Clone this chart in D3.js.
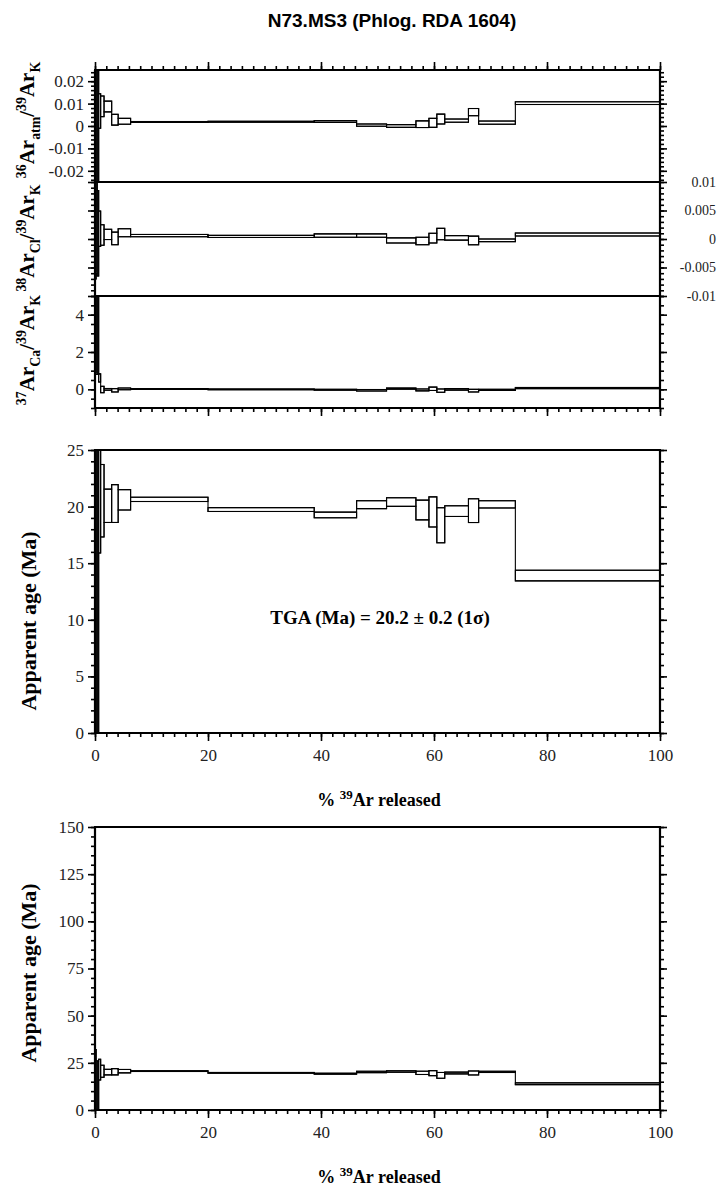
<!DOCTYPE html>
<html><head><meta charset="utf-8">
<script src="https://cdn.jsdelivr.net/npm/d3@7"></script>
<style>body{margin:0;background:#fff}svg{display:block}</style>
</head><body>
<script>
// ---- data ----
const stepEdges = [0, 0.2, 0.4, 0.65, 1.0, 1.6, 2.95, 4.1, 6.3, 20.0, 38.8, 46.3, 51.6, 56.8, 59.1, 60.5, 61.9, 66.1, 67.9, 74.4, 100];
const ages    = [12, 9, 6, 21.4, 20.52, 20.07, 20.27, 20.6, 20.64, 19.74, 19.26, 20.17, 20.4, 19.7, 19.53, 18.35, 19.6, 19.64, 20.2, 13.91];
const ageErr  = [20, 17, 20, 5.5, 3.2, 1.47, 1.67, 0.9, 0.19, 0.17, 0.25, 0.35, 0.38, 0.87, 1.33, 1.55, 0.47, 1.05, 0.32, 0.47];
const atm36   = [0, 0.002, 0.004, 0.0067, 0.0088, 0.0087, 0.0028, 0.0021, 0.0018, 0.0019, 0.002, 0.0004, 0, 0.0008, 0.0014, 0.0031, 0.0024, 0.0062, 0.0015, 0.0102];
const atm36Err= [0.05, 0.04, 0.03, 0.0077, 0.0046, 0.0024, 0.0024, 0.0013, 0.0002, 0.0002, 0.0004, 0.0005, 0.0006, 0.0015, 0.002, 0.0022, 0.0007, 0.0016, 0.0007, 0.0006];
const cl38    = [0.003, 0.002, 0.001, 0.0018, 0.0007, 0.0008, 0.0001, 0.0011, 0.0006, 0.00045, 0.0006, 0.0006, -0.00025, -0.00035, 0.00015, 0.00087, 0.0002, -0.00026, -0.00023, 0.00079];
const cl38Err = [0.01, 0.008, 0.0075, 0.0031, 0.0018, 0.0009, 0.0011, 0.0007, 0.0002, 0.00018, 0.0003, 0.0003, 0.00045, 0.00065, 0.00085, 0.001, 0.0004, 0.00076, 0.00023, 0.00026];
const ca37    = [4, 3.5, 3, 0.61, -0.01, 0, -0.05, 0.025, 0.02, 0, -0.02, -0.05, 0.04, -0.03, 0.03, -0.07, 0, -0.07, -0.03, 0.07];
const ca37Err = [3.2, 2.7, 2.2, 0.22, 0.17, 0.045, 0.09, 0.045, 0.02, 0.02, 0.02, 0.04, 0.03, 0.05, 0.09, 0.09, 0.04, 0.07, 0.03, 0.03];
const xTicks = [0, 20, 40, 60, 80, 100];
const atmTicks = [-0.02, -0.01, 0, 0.01, 0.02];
const clTicks = [-0.01, -0.005, 0, 0.005, 0.01];
const caTicks = [0, 2, 4];
const ageTicks = [0, 5, 10, 15, 20, 25];
const ageTicks2 = [0, 25, 50, 75, 100, 125, 150];
const titleText = "N73.MS3 (Phlog. RDA 1604)";
const tgaText = "TGA (Ma) = 20.2 ± 0.2 (1σ)";

// ---- drawing ----
const W = 720, H = 1193;
const svg = d3.select("body").append("svg").attr("width", W).attr("height", H);
const x = d3.scaleLinear().domain([0, 100]).range([95, 660]);
const SERIF = "'Liberation Serif','Times New Roman',serif";
const SANS = "'Liberation Sans',Arial,sans-serif";
const minorRange = (a, b, s) => d3.range(Math.round(a / s), Math.round(b / s) + 1).map(k => +(k * s).toFixed(6));
const fmt = v => v === 0 ? "0" : String(v);
const TICKFS = 17;

svg.append("text").attr("x", 392).attr("y", 27).attr("text-anchor", "middle")
  .attr("font-family", SANS).attr("font-weight", "bold").attr("font-size", 19).text(titleText);

let clipId = 0;
function panel(cfg) {
  const y = d3.scaleLinear().domain(cfg.domain).range([cfg.y1, cfg.y0]);
  const g = svg.append("g");
  const id = "clip" + (clipId++);
  svg.append("clipPath").attr("id", id).append("rect")
    .attr("x", 95).attr("y", cfg.y0).attr("width", 565).attr("height", cfg.y1 - cfg.y0);
  const data = cfg.vals.map((v, i) => ({x0: stepEdges[i], x1: stepEdges[i + 1], lo: v - cfg.errs[i], hi: v + cfg.errs[i]}));
  const dg = g.append("g").attr("clip-path", `url(#${id})`);
  // envelope (upper and lower step lines joined)
  const upper = data.flatMap(d => [[d.x0, d.hi], [d.x1, d.hi]]);
  const lower = data.slice().reverse().flatMap(d => [[d.x1, d.lo], [d.x0, d.lo]]);
  const line = d3.line().x(p => x(p[0])).y(p => y(p[1]));
  dg.append("path").attr("d", line(upper.concat(lower)) + "Z")
    .attr("fill", "none").attr("stroke", "#000").attr("stroke-width", 1.1);
  // individual step boxes
  dg.selectAll("rect").data(data).join("rect")
    .attr("x", d => x(d.x0)).attr("width", d => Math.max(0.8, x(d.x1) - x(d.x0)))
    .attr("y", d => y(d.hi)).attr("height", d => Math.max(0.8, y(d.lo) - y(d.hi)))
    .attr("fill", "none").attr("stroke", "#000").attr("stroke-width", 1.1);
  const style = sel => { sel.select(".domain").remove(); sel.selectAll("line").attr("stroke", "#000").attr("stroke-width", 1.6);
    sel.selectAll("text").attr("font-family", SERIF).attr("font-size", TICKFS).attr("fill", "#222"); };
  // left
  g.append("g").attr("transform", "translate(95,0)").call(d3.axisLeft(y).tickValues(cfg.minor).tickSize(4).tickFormat("")).call(style);
  g.append("g").attr("transform", "translate(95,0)").call(d3.axisLeft(y).tickValues(cfg.major).tickSize(7)
    .tickPadding(4).tickFormat(cfg.leftLabels ? fmt : "")).call(style);
  // right
  g.append("g").attr("transform", "translate(660,0)").call(d3.axisRight(y).tickValues(cfg.minor).tickSize(4).tickFormat("")).call(style);
  g.append("g").attr("transform", "translate(660,0)").call(d3.axisRight(y).tickValues(cfg.major).tickSize(7).tickFormat("")).call(style);
  if (cfg.rightLabels) {
    g.append("g").selectAll("text").data(cfg.major).join("text")
      .attr("x", 716).attr("y", d => y(d)).attr("dy", "0.35em").attr("text-anchor", "end")
      .attr("font-family", SERIF).attr("font-size", 14).attr("fill", "#222").text(fmt);
  }
  // frame
  const f = g.append("g").attr("stroke", "#000").attr("stroke-width", 2.2).attr("fill", "none");
  f.append("line").attr("x1", 95).attr("x2", 95).attr("y1", cfg.y0).attr("y2", cfg.y1);
  f.append("line").attr("x1", 660).attr("x2", 660).attr("y1", cfg.y0).attr("y2", cfg.y1);
  f.append("line").attr("x1", 94).attr("x2", 661).attr("y1", cfg.y0).attr("y2", cfg.y0);
  f.append("line").attr("x1", 94).attr("x2", 661).attr("y1", cfg.y1).attr("y2", cfg.y1);
  return {g, y};
}

function xAxis(yPos, dir, labels) {
  const mk = dir === "top" ? d3.axisTop : d3.axisBottom;
  const st = sel => { sel.select(".domain").remove(); sel.selectAll("line").attr("stroke", "#000").attr("stroke-width", 1.6);
    sel.selectAll("text").attr("font-family", SERIF).attr("font-size", TICKFS).attr("fill", "#222"); };
  svg.append("g").attr("transform", `translate(0,${yPos})`).call(mk(x).tickValues(d3.range(0, 101, 2)).tickSize(4).tickFormat("")).call(st);
  svg.append("g").attr("transform", `translate(0,${yPos})`).call(mk(x).tickValues(xTicks).tickSize(8).tickPadding(8).tickFormat(labels ? d3.format("d") : "")).call(st);
}

function rotLabel(cx, cy, parts, size) {
  const t = svg.append("text").attr("transform", `translate(${cx},${cy}) rotate(-90)`).attr("text-anchor", "middle")
    .attr("font-family", SERIF).attr("font-weight", "bold").attr("font-size", size);
  let cur = 0;
  parts.forEach(p => {
    const off = p.k === "sup" ? -size * 0.38 : p.k === "sub" ? size * 0.28 : 0;
    t.append("tspan").attr("dy", off - cur).attr("font-size", p.k ? size * 0.66 : size).text(p.t);
    cur = off;
  });
}

// stacked panels
panel({y0: 70, y1: 182, domain: [-0.025, 0.025], vals: atm36, errs: atm36Err, major: atmTicks,
  minor: minorRange(-0.024, 0.024, 0.002), leftLabels: true});
panel({y0: 182, y1: 296, domain: [-0.01, 0.01], vals: cl38, errs: cl38Err, major: clTicks,
  minor: minorRange(-0.01, 0.01, 0.001), rightLabels: true});
panel({y0: 296, y1: 408, domain: [-1, 5], vals: ca37, errs: ca37Err, major: caTicks,
  minor: minorRange(-1, 5, 0.5), leftLabels: true});
xAxis(70, "top", false);
xAxis(408, "bottom", false);

rotLabel(34, 120, [{t: "36", k: "sup"}, {t: "Ar"}, {t: "atm", k: "sub"}, {t: "/"}, {t: "39", k: "sup"}, {t: "Ar"}, {t: "K", k: "sub"}], 21);
rotLabel(34, 238, [{t: "38", k: "sup"}, {t: "Ar"}, {t: "Cl", k: "sub"}, {t: "/"}, {t: "39", k: "sup"}, {t: "Ar"}, {t: "K", k: "sub"}], 21);
rotLabel(34, 350, [{t: "37", k: "sup"}, {t: "Ar"}, {t: "Ca", k: "sub"}, {t: "/"}, {t: "39", k: "sup"}, {t: "Ar"}, {t: "K", k: "sub"}], 21);

// age panel
panel({y0: 450, y1: 733, domain: [0, 25], vals: ages, errs: ageErr, major: ageTicks,
  minor: d3.range(0, 26, 1), leftLabels: true});
xAxis(733, "bottom", true);
rotLabel(36, 621, [{t: "Apparent age (Ma)"}], 22);
svg.append("text").attr("x", 380).attr("y", 624).attr("text-anchor", "middle").attr("font-family", SERIF)
  .attr("font-weight", "bold").attr("font-size", 19).text(tgaText);
function xTitle(yPos) {
  const t = svg.append("text").attr("x", 379).attr("y", yPos).attr("text-anchor", "middle").attr("font-family", SERIF)
    .attr("font-weight", "bold").attr("font-size", 18);
  t.append("tspan").text("% ");
  t.append("tspan").attr("dy", -7).attr("font-size", 13).text("39");
  t.append("tspan").attr("dy", 7).text("Ar released");
}
xTitle(806);

// wide-range age panel
panel({y0: 827, y1: 1110, domain: [0, 150], vals: ages, errs: ageErr, major: ageTicks2,
  minor: d3.range(0, 151, 5), leftLabels: true});
xAxis(1110, "bottom", true);
rotLabel(36, 973, [{t: "Apparent age (Ma)"}], 22);
xTitle(1183);
</script>
</body></html>
